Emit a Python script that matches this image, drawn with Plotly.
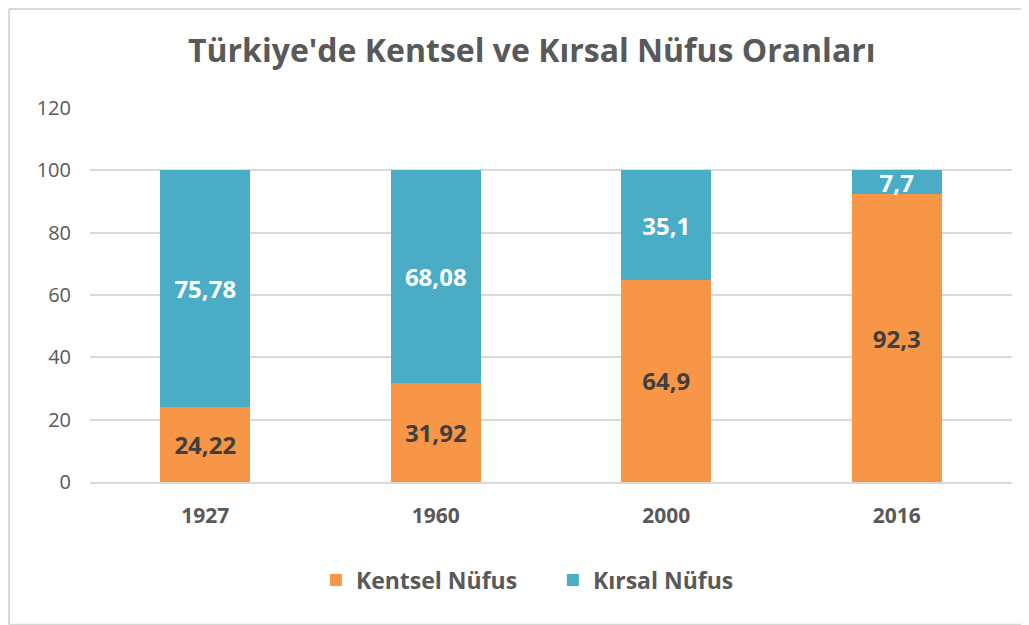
import plotly.graph_objects as go

years = ["1927", "1960", "2000", "2016"]
kentsel = [24.22, 31.92, 64.9, 92.3]
kirsal = [75.78, 68.08, 35.1, 7.7]
y_ticks = [0, 20, 40, 60, 80, 100, 120]


def etiket(v):
    return str(v).replace(".", ",")


fig = go.Figure()
fig.add_bar(
    x=years, y=kentsel, name="Kentsel Nüfus",
    marker=dict(color="#F79646", line=dict(width=0)),
    text=[etiket(v) for v in kentsel], textposition="inside",
    insidetextanchor="middle", textangle=0, constraintext="none",
    textfont=dict(family="Open Sans", size=24, color="#404040", weight="bold"),
    hoverinfo="x+y+name",
)
fig.add_bar(
    x=years, y=kirsal, name="Kırsal Nüfus",
    marker=dict(color="#4BACC6", line=dict(width=0)),
    text=[etiket(v) for v in kirsal], textposition="inside",
    insidetextanchor="middle", textangle=0, constraintext="none",
    textfont=dict(family="Open Sans", size=24, color="white", weight="bold"),
    hoverinfo="x+y+name",
)

# page has an 8px body margin, so figure is 8px smaller than the window
fig.update_layout(
    barmode="stack",
    bargap=0.61,
    width=1021, height=617,
    margin=dict(l=82, r=17, t=100, b=143),
    paper_bgcolor="white", plot_bgcolor="white",
    font=dict(family="Open Sans", color="#595959"),
    title=dict(
        text="Türkiye'de Kentsel ve Kırsal Nüfus Oranları",
        x=0.513, xanchor="center", y=0.93, yanchor="middle",
        font=dict(family="Open Sans", size=32, color="#595959", weight="bold"),
    ),
    legend=dict(
        orientation="h", x=0.245, xanchor="left", y=-0.262, yanchor="middle",
        font=dict(family="Open Sans", size=23, color="#595959", weight="bold"),
        traceorder="normal", itemwidth=30,
        entrywidth=192, entrywidthmode="pixels",
    ),
    showlegend=True,
)
fig.update_yaxes(
    range=[0, 120], tickvals=y_ticks, showgrid=True, gridcolor="#D9D9D9",
    gridwidth=1.5, zeroline=False, showline=False,
    tickfont=dict(family="Open Sans", size=20, color="#595959"),
    ticks="", ticklabelstandoff=18,
)
fig.update_xaxes(
    showline=True, linecolor="#D9D9D9", linewidth=1.5,
    tickfont=dict(family="Open Sans", size=21, color="#595959", weight="bold"),
    ticks="", ticklabelstandoff=14,
)

# chart frame: left, top and bottom edges
frame = dict(type="line", xref="paper", yref="paper",
             line=dict(color="#D9D9D9", width=2), layer="below")
fig.add_shape(x0=-0.0878, x1=-0.0878, y0=1.265, y1=-0.382, **frame)
fig.add_shape(x0=-0.0878, x1=1.05, y0=1.265, y1=1.265, **frame)
fig.add_shape(x0=-0.0878, x1=1.05, y0=-0.382, y1=-0.382, **frame)

fig.write_html("out.html")
